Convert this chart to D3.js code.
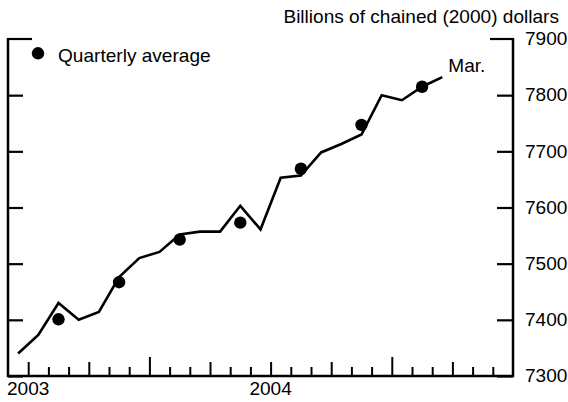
<!DOCTYPE html>
<html>
<head>
<meta charset="utf-8">
<script src="https://cdn.jsdelivr.net/npm/d3@7"></script>
<style>
  body { margin: 0; background: #fff; }
  text { font-family: "Liberation Sans", Arial, Helvetica, sans-serif; fill: #000; }
</style>
</head>
<body>
<div id="chart"></div>
<script>
// monthly data, Jun 2003 - Mar 2005
const months = ["2003-06", "2003-07", "2003-08", "2003-09", "2003-10", "2003-11", "2003-12",
  "2004-01", "2004-02", "2004-03", "2004-04", "2004-05", "2004-06", "2004-07", "2004-08",
  "2004-09", "2004-10", "2004-11", "2004-12", "2005-01", "2005-02", "2005-03"];
const monthlyValues = [7340, 7373, 7430, 7400, 7414, 7476, 7510,
  7521, 7552, 7557, 7557, 7603, 7561, 7653, 7657,
  7698, 7713, 7730, 7800, 7791, 7815, 7832];

// quarterly averages
const quarters = ["2003-Q3", "2003-Q4", "2004-Q1", "2004-Q2", "2004-Q3", "2004-Q4", "2005-Q1"];
const quarterlyValues = [7401, 7467, 7543, 7573, 7669, 7747, 7815];

const yTicks = [7300, 7400, 7500, 7600, 7700, 7800, 7900];
const yearLabels = ["2003", "2004"];
const axisStart = "2003-06";
const axisEnd = "2005-07";

const W = 568, H = 402;
const FS = 17.5, SX = 1.09;   // font size and horizontal stretch

// month string -> month index from axis start
const monthIndex = s => {
  const [y, m] = s.split("-").map(Number);
  const [y0, m0] = axisStart.split("-").map(Number);
  return (y - y0) * 12 + (m - m0);
};
const quarterCenter = q => {
  const [y, qq] = q.split("-Q").map(Number);
  const m = (qq - 1) * 3 + 1;
  return monthIndex(`${y}-${String(m).padStart(2, "0")}`) + 1.5;
};

const svg = d3.select("#chart").append("svg")
  .attr("width", W).attr("height", H);

const x = d3.scaleLinear()
  .domain([0, monthIndex(axisEnd)])
  .range([8, 513]);
const y = d3.scaleLinear()
  .domain([7300, 7900])
  .range([376, 39]);

// stretched text helper
function label(px, py, str, anchor) {
  return svg.append("text")
    .attr("transform", `translate(${px},${py}) scale(${SX},1)`)
    .attr("text-anchor", anchor || "start")
    .style("font-size", FS + "px")
    .text(str);
}

// bottom axis: monthly ticks, taller at quarters and years
const monthTicks = d3.range(1, monthIndex(axisEnd));
const xAxis = svg.append("g")
  .attr("transform", `translate(0,${y(7300)})`)
  .call(d3.axisBottom(x).tickValues(monthTicks).tickSize(-9).tickFormat(""));
xAxis.select(".domain").remove();
xAxis.selectAll(".tick line")
  .attr("stroke-width", 2)
  .attr("y2", d => {
    const calMonth = (d + 5) % 12; // 0 = January
    if (calMonth === 0) return -19;
    if (calMonth % 3 === 0) return -14;
    return -9;
  });

// left axis ticks
const yLeft = svg.append("g")
  .attr("transform", `translate(${x.range()[0]},0)`)
  .call(d3.axisLeft(y).tickValues(yTicks.slice(0, -1)).tickSize(-15).tickFormat(""));
yLeft.select(".domain").remove();
yLeft.selectAll(".tick line").attr("stroke-width", 2.2);

// right axis ticks
const yRight = svg.append("g")
  .attr("transform", `translate(${x.range()[1]},0)`)
  .call(d3.axisRight(y).tickValues(yTicks.slice(0, -1)).tickSize(-16).tickFormat(""));
yRight.select(".domain").remove();
yRight.selectAll(".tick line").attr("stroke-width", 2.2);

// longer top caps
svg.append("line").attr("x1", x.range()[0]).attr("x2", x.range()[0] + 24)
  .attr("y1", y(7900)).attr("y2", y(7900)).attr("stroke", "#000").attr("stroke-width", 2.2);
svg.append("line").attr("x1", x.range()[1] - 23).attr("x2", x.range()[1])
  .attr("y1", y(7900)).attr("y2", y(7900)).attr("stroke", "#000").attr("stroke-width", 2.2);

// frame lines
svg.append("path")
  .attr("d", `M${x.range()[0]},${y(7900) - 1.1}V${y(7300)}H${x.range()[1]}V${y(7900) - 1.1}`)
  .attr("fill", "none").attr("stroke", "#000").attr("stroke-width", 2.5);

yTicks.forEach(t => label(525, y(t) + 6.3, t));

// year labels centred on mid-year
yearLabels.forEach(yr => label(x(monthIndex(`${yr}-07`)), 395, yr, "middle"));

// title
label(559, 22.7, "Billions of chained (2000) dollars", "end");

// monthly line
const line = d3.line()
  .x((d, i) => x(monthIndex(months[i]) + 0.5))
  .y(d => y(d));
svg.append("path")
  .datum(monthlyValues)
  .attr("d", line)
  .attr("fill", "none")
  .attr("stroke", "#000")
  .attr("stroke-width", 2.6)
  .attr("stroke-linejoin", "miter");

// quarterly dots
svg.append("g")
  .selectAll("circle")
  .data(quarterlyValues)
  .join("circle")
  .attr("cx", (d, i) => x(quarterCenter(quarters[i])))
  .attr("cy", d => y(d))
  .attr("r", 6.2)
  .attr("fill", "#000");

// end label
const lastX = x(monthIndex(months[months.length - 1]) + 0.5);
const lastY = y(monthlyValues[monthlyValues.length - 1]);
label(lastX + 6, lastY - 5, "Mar.");

// legend
svg.append("circle").attr("cx", 38).attr("cy", 53.3).attr("r", 6.2).attr("fill", "#000");
label(58, 62, "Quarterly average");
</script>
</body>
</html>
